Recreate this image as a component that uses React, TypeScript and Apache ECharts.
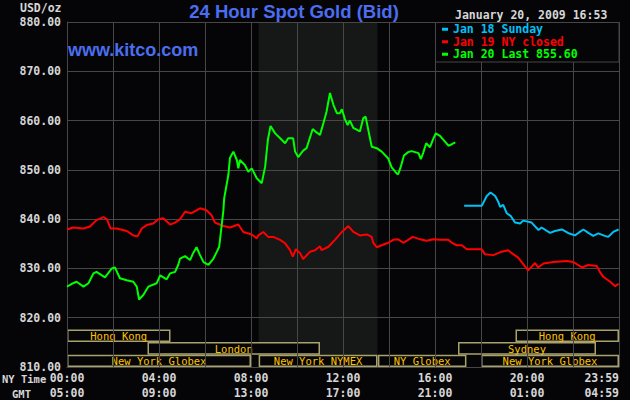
import React, { useEffect, useRef } from "react";
import * as echarts from "echarts";

// ---- data ----
const yMin = 810;
const yMax = 880;
const yStep = 10;
const timeLabelMinutes = [0, 240, 480, 720, 960, 1200, 1440];

const jan18Times = [1036, 1082, 1095, 1105, 1117, 1125, 1130, 1138, 1147, 1158, 1169, 1182, 1190, 1212, 1230, 1238, 1260, 1273, 1291, 1307, 1325, 1334, 1347, 1360, 1373, 1386, 1403, 1412, 1425, 1439];
const jan18Values = [842.7, 842.7, 844.7, 845.4, 844.7, 843.5, 842.5, 842.9, 841.2, 840.6, 839.3, 839.1, 839.7, 839.3, 837.8, 838.3, 837.2, 837.6, 837.9, 837.2, 836.7, 837.2, 837.9, 837.2, 836.6, 837.1, 836.6, 836.4, 837.4, 837.9];

const jan19Times = [0, 16, 43, 60, 77, 95, 104, 114, 130, 156, 173, 184, 195, 208, 225, 238, 251, 269, 282, 295, 308, 325, 347, 364, 377, 386, 408, 425, 447, 460, 482, 495, 499, 512, 525, 538, 556, 569, 582, 589, 597, 608, 616, 634, 647, 660, 664, 682, 699, 717, 734, 747, 764, 782, 795, 799, 808, 821, 838, 851, 864, 877, 890, 902, 921, 938, 956, 973, 995, 1004, 1017, 1030, 1043, 1082, 1090, 1112, 1134, 1151, 1160, 1177, 1186, 1203, 1221, 1229, 1243, 1269, 1304, 1321, 1343, 1360, 1382, 1390, 1399, 1417, 1430, 1439];
const jan19Values = [837.9, 838.3, 838.1, 838.5, 839.8, 840.4, 840.0, 838.1, 838.1, 837.6, 836.7, 836.5, 838.1, 838.8, 839.1, 840.0, 840.2, 838.9, 839.3, 840.0, 841.5, 841.2, 842.2, 841.8, 840.8, 839.3, 838.6, 838.3, 838.9, 837.4, 836.9, 836.1, 836.7, 837.4, 836.4, 836.4, 835.8, 835.1, 833.7, 832.4, 833.9, 833.1, 831.9, 833.4, 833.7, 834.5, 833.7, 834.4, 835.8, 837.4, 838.6, 837.4, 836.7, 836.9, 836.4, 835.2, 834.3, 834.7, 835.2, 835.8, 835.9, 835.2, 835.8, 836.4, 835.9, 835.6, 835.9, 835.8, 835.8, 835.2, 834.7, 834.7, 833.9, 833.9, 832.9, 832.7, 833.4, 833.7, 833.1, 832.2, 831.3, 829.6, 831.1, 830.2, 831.0, 831.3, 831.5, 831.3, 830.2, 830.7, 830.5, 829.3, 828.3, 827.3, 826.4, 826.9];

const jan20Times = [0, 16, 25, 43, 56, 69, 77, 91, 99, 117, 125, 138, 156, 173, 182, 188, 199, 212, 234, 243, 260, 269, 282, 290, 295, 308, 321, 329, 338, 347, 356, 369, 382, 391, 397, 404, 408, 410, 421, 425, 434, 443, 447, 451, 464, 473, 482, 495, 508, 517, 524, 531, 543, 556, 569, 577, 590, 595, 603, 616, 625, 632, 641, 651, 660, 669, 677, 686, 695, 704, 712, 717, 725, 732, 738, 747, 764, 773, 779, 786, 795, 808, 821, 838, 847, 860, 864, 871, 879, 890, 899, 908, 917, 923, 929, 937, 947, 956, 962, 973, 982, 995, 1004, 1013];
const jan20Values = [826.3, 827.0, 827.3, 826.3, 827.0, 829.0, 829.3, 828.6, 828.2, 830.0, 830.2, 828.0, 827.6, 827.3, 826.3, 823.7, 824.6, 826.3, 827.0, 828.6, 827.8, 829.0, 829.3, 830.7, 832.0, 832.5, 831.7, 833.1, 834.3, 832.7, 831.3, 830.7, 832.0, 833.4, 834.4, 839.1, 841.8, 844.2, 849.0, 852.4, 853.7, 852.0, 850.3, 852.0, 851.0, 849.6, 850.3, 848.3, 847.3, 850.7, 856.1, 858.9, 857.4, 856.4, 855.4, 856.4, 856.4, 853.7, 852.6, 853.9, 854.4, 856.1, 858.3, 857.6, 857.1, 859.5, 861.8, 865.6, 863.2, 861.5, 861.5, 862.3, 860.3, 859.1, 860.0, 858.5, 857.8, 860.5, 860.8, 858.1, 854.7, 854.4, 853.7, 852.3, 850.5, 849.3, 849.1, 850.7, 852.9, 853.6, 853.8, 853.6, 853.4, 852.2, 853.4, 855.4, 854.6, 856.4, 857.4, 856.9, 856.1, 854.9, 855.2, 855.6];

const seriesNames = ["Jan 18 Sunday", "Jan 19 NY closed", "Jan 20 Last 855.60"];

// NYMEX floor hours (minutes after NY midnight)
const nymexOpen = [500, 810];

// trading sessions
const sessionNames = ["Hong Kong", "Hong Kong", "London", "Sydney", "New York Globex", "New York NYMEX", "NY Globex", "New York Globex"];
const sessionStart = [0, 1170, 210, 1020, 0, 500, 811, 1080];
const sessionEnd = [270, 1440, 660, 1380, 480, 810, 1042, 1440];
const sessionRow = [0, 0, 1, 1, 2, 2, 2, 2];
const sessionRowEdges = [817.6, 815.05, 812.5, 810];

// ---- styles ----
const BG = "#050507";
const GRID = "#474747";
const LABEL = "#d6d6d6";
const MONO = '"DejaVu Sans Mono", "Liberation Mono", monospace';
const BLUE = "#4b6ef0";
const COLORS = ["#00c2f5", "#ff0000", "#00ff00"];

const pad = (n: number) => (n < 10 ? "0" + n : "" + n);
const fmtMin = (m: number) => {
  if (m >= 1440) m = 1439;
  return pad(Math.floor(m / 60)) + ":" + pad(m % 60);
};
const nyFmt = (v: number) => fmtMin(v);
const gmtFmt = (v: number) => {
  const m = v >= 1440 ? 1439 : v;
  return fmtMin((m + 300) % 1440);
};

const zip = (t: number[], v: number[]) => t.map((x, i) => [x, v[i]]);

const textStyle = (text: string, font: string, fill: string, align: string) => ({
  text,
  font,
  fill,
  align,
  textAlign: align,
  verticalAlign: "middle",
  textVerticalAlign: "middle",
});

export default function App() {
  const ref = useRef<HTMLDivElement>(null);
  useEffect(() => {
    if (!ref.current) return;
    const chart = echarts.init(ref.current, undefined, { renderer: "svg" });
    const monoLabel = {
      color: LABEL,
      fontFamily: MONO,
      fontWeight: "bold" as const,
      fontSize: 11.5,
    };
    const option: any = {
      animation: false,
      backgroundColor: BG,
      grid: { left: 67, right: 11, top: 22, bottom: 33, containLabel: false },
      xAxis: [
        {
          type: "value",
          min: 0,
          max: 1440,
          interval: 120,
          position: "bottom",
          z: 3,
          axisLine: { show: true, lineStyle: { color: GRID, width: 1 } },
          axisTick: { show: false },
          splitLine: { show: true, lineStyle: { color: GRID, width: 1 } },
          axisLabel: {
            ...monoLabel,
            customValues: timeLabelMinutes,
            formatter: nyFmt,
            margin: 5,
            alignMaxLabel: "right",
          },
        },
        {
          type: "value",
          min: 0,
          max: 1440,
          interval: 120,
          position: "bottom",
          offset: 15,
          z: 3,
          axisLine: { show: false },
          axisTick: { show: false },
          splitLine: { show: false },
          axisLabel: {
            ...monoLabel,
            customValues: timeLabelMinutes,
            formatter: gmtFmt,
            margin: 5,
            alignMaxLabel: "right",
          },
        },
      ],
      yAxis: {
        type: "value",
        min: yMin,
        max: yMax,
        interval: yStep,
        z: 3,
        axisLine: { show: true, lineStyle: { color: GRID, width: 1 } },
        axisTick: { show: false },
        splitLine: { show: true, lineStyle: { color: GRID, width: 1 } },
        axisLabel: { ...monoLabel, margin: 6, formatter: (v: number) => v.toFixed(2) },
      },
      legend: {
        orient: "vertical",
        left: 442,
        top: 23,
        padding: 0,
        itemGap: 0,
        itemWidth: 6,
        itemHeight: 3,
        icon: "rect",
        selectedMode: false,
        z: 11,
        textStyle: { fontFamily: MONO, fontWeight: "bold", fontSize: 11.5, lineHeight: 12.5 },
        data: seriesNames.map((n, i) => ({ name: n, textStyle: { color: COLORS[i] } })),
      },
      graphic: [
        {
          type: "rect",
          z: 10,
          shape: { x: 435.5, y: 22.5, width: 183.5, height: 39.5 },
          style: { fill: BG, stroke: GRID, lineWidth: 1 },
        },
        {
          type: "text",
          x: 294,
          y: 11,
          z: 10,
          style: textStyle("24 Hour Spot Gold (Bid)", 'bold 18.5px "Liberation Sans", Arial, sans-serif', BLUE, "center"),
        },
        {
          type: "text",
          x: 68,
          y: 50,
          z: 10,
          style: textStyle("www.kitco.com", 'bold 18px "Liberation Sans", Arial, sans-serif', BLUE, "left"),
        },
        {
          type: "text",
          x: 455,
          y: 15,
          z: 10,
          style: textStyle("January 20, 2009 16:53", "bold 11.5px " + MONO, LABEL, "left"),
        },
        {
          type: "text",
          x: 20,
          y: 8,
          z: 10,
          style: textStyle("USD/oz", "bold 11.5px " + MONO, LABEL, "left"),
        },
        {
          type: "text",
          x: 2,
          y: 379,
          z: 10,
          style: textStyle("NY Time", "bold 10.5px " + MONO, LABEL, "left"),
        },
        {
          type: "text",
          x: 12,
          y: 394,
          z: 10,
          style: textStyle("GMT", "bold 10.5px " + MONO, LABEL, "left"),
        },
      ],
      series: [
        {
          type: "custom",
          name: "nymex",
          z: 1,
          silent: true,
          data: [[nymexOpen[0], nymexOpen[1]]],
          renderItem: (params: any, api: any) => {
            const p1 = api.coord([api.value(0), yMax]);
            const p2 = api.coord([api.value(1), yMin]);
            return {
              type: "rect",
              shape: { x: p1[0], y: p1[1], width: p2[0] - p1[0], height: p2[1] - p1[1] },
              style: { fill: "#151816" },
            };
          },
        },
        {
          type: "custom",
          name: "sessions",
          z: 2,
          silent: true,
          data: sessionStart.map((s, i) => [s, sessionEnd[i], sessionRow[i]]),
          renderItem: (params: any, api: any) => {
            const r = api.value(2);
            const p1 = api.coord([api.value(0), sessionRowEdges[r]]);
            const p2 = api.coord([api.value(1), sessionRowEdges[r + 1]]);
            return {
              type: "group",
              children: [
                {
                  type: "rect",
                  shape: {
                    x: p1[0] + 0.75,
                    y: p1[1] + 0.75,
                    width: p2[0] - p1[0] - 1.5,
                    height: p2[1] - p1[1] - 1.5,
                  },
                  style: { fill: BG, stroke: "#a9a26c", lineWidth: 1.5 },
                },
                {
                  type: "text",
                  x: (p1[0] + p2[0]) / 2,
                  y: (p1[1] + p2[1]) / 2 + 0.5,
                  style: {
                    text: sessionNames[params.dataIndex],
                    font: "10.5px " + MONO,
                    fill: "#ffc200",
                    align: "center",
                    verticalAlign: "middle",
                    lineHeight: 10.5,
                  },
                },
              ],
            };
          },
        },
        ...[zip(jan18Times, jan18Values), zip(jan19Times, jan19Values), zip(jan20Times, jan20Values)].map(
          (d, i) => ({
            type: "line",
            name: seriesNames[i],
            z: 4,
            data: d,
            showSymbol: false,
            symbol: "none",
            color: COLORS[i],
            lineStyle: { color: COLORS[i], width: 2 },
          })
        ),
      ],
    };
    chart.setOption(option);
    return () => chart.dispose();
  }, []);
  return (
    <div
      ref={ref}
      style={{ position: "fixed", left: 0, top: 0, width: 630, height: 400, background: BG }}
    />
  );
}
